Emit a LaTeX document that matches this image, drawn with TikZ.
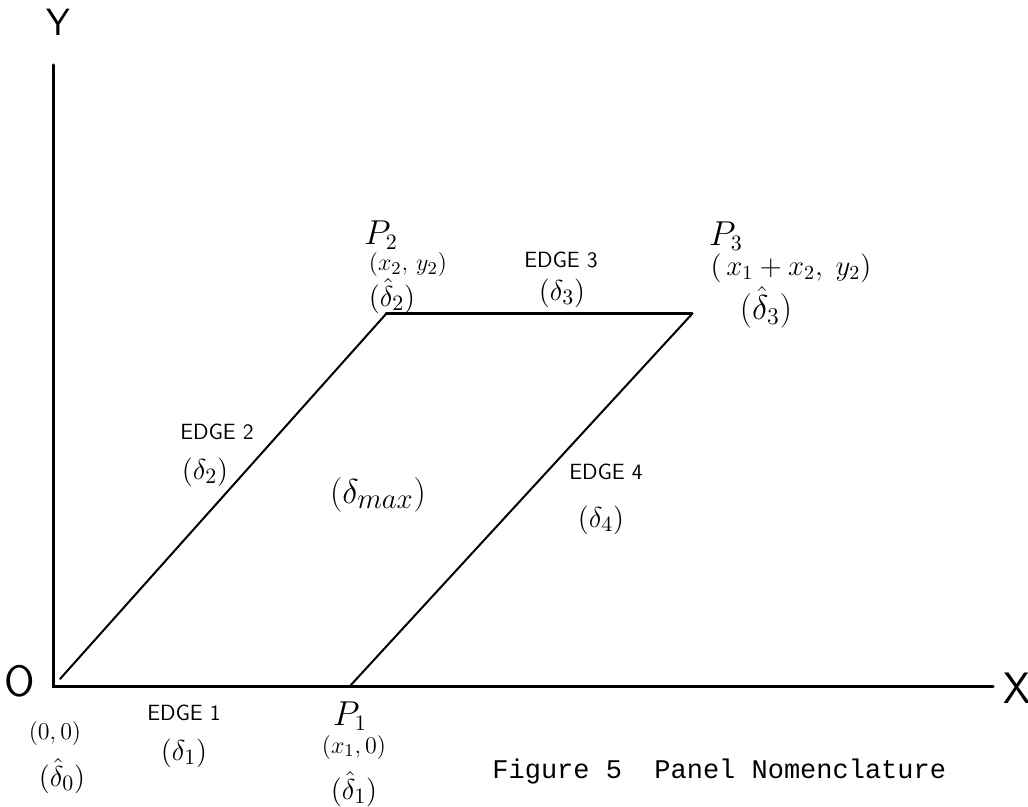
\documentclass[tikz,border=0pt]{standalone}
\usepackage{fontspec}
\newfontfamily\capfont{Liberation Mono}
\begin{document}
\begin{tikzpicture}[x=0.5pt,y=-0.5pt,
  axis/.style={line width=1.5pt, line cap=round},
  edgeline/.style={line width=1pt, line cap=round},
  toplinestyle/.style={line width=1.5pt, line cap=round},
  axlab/.style={inner sep=0pt, font=\fontsize{19}{22}\selectfont\sffamily},
  ptlab/.style={inner sep=0pt, font=\fontsize{16}{18}\selectfont},
  coordlab/.style={inner sep=0pt, font=\fontsize{12.5}{14}\selectfont},
  dlab/.style={inner sep=0pt, font=\fontsize{15}{17}\selectfont},
  edgelab/.style={inner sep=0pt, font=\fontsize{11}{13}\selectfont\sffamily},
  caption/.style={inner sep=0pt, font=\fontsize{13.5}{16}\selectfont\capfont}]
\useasboundingbox (0,0) rectangle (1028,807);
% key points
\coordinate (O) at (53,686);
\coordinate (Ytop) at (53,65);
\coordinate (Xend) at (993,686);
\coordinate (E2s) at (60,679);
\coordinate (P1) at (350,686);
\coordinate (P2) at (386,314);
\coordinate (P3) at (692,314);
% axes
\draw[axis] (Ytop) -- (O) -- (Xend);
% panel edges
\draw[edgeline] (E2s) -- (P2);
\draw[toplinestyle] (P2) -- (P3);
\draw[edgeline] (P3) -- (P1);
% axis labels
\node[axlab] (ylab) at (58,22) {Y};
\node[axlab, font=\fontsize{22}{24}\selectfont\sffamily] (olab) at (20,681) {O};
\node[axlab, font=\fontsize{22}{24}\selectfont\sffamily] (xlab) at (1017,688) {X};
% origin labels
\node[coordlab] (oc) at (55,733) {$(0,0)$};
\node[dlab] (od) at (62,776) {$(\hat{\delta}_0)$};
% edge 1
\node[edgelab] (e1) at (184,713) {EDGE 1};
\node[dlab] (e1d) at (184,753) {$(\delta_1)$};
% P1
\node[ptlab] (p1) at (350,716) {$P_1$};
\node[coordlab] (p1c) at (354,747) {$(x_1,0)$};
\node[dlab] (p1d) at (354,789) {$(\hat{\delta}_1)$};
% edge 2
\node[edgelab] (e2) at (217,432) {EDGE 2};
\node[dlab] (e2d) at (205,472) {$(\delta_2)$};
% P2
\node[ptlab] (p2) at (381,235) {$P_2$};
\node[coordlab] (p2c) at (408,265) {$(x_2,\,y_2)$};
\node[dlab] (p2d) at (392,296) {$(\hat{\delta}_2)$};
% edge 3
\node[edgelab] (e3) at (561,260) {EDGE 3};
\node[dlab] (e3d) at (562,293) {$(\delta_3)$};
% P3
\node[ptlab] (p3) at (726,236) {$P_3$};
\node[coordlab, font=\fontsize{14}{16}\selectfont] (p3c) at (791,268) {$(\,x_1+x_2,\;y_2)$};
\node[dlab, font=\fontsize{17}{19}\selectfont] (p3d) at (766,307) {$(\hat{\delta}_3)$};
% interior
\node[dlab, font=\fontsize{19}{22}\selectfont] (dmax) at (378,495) {$(\delta_{max})$};
% edge 4
\node[edgelab] (e4) at (606,472) {EDGE 4};
\node[dlab] (e4d) at (601,520) {$(\delta_4)$};
% caption
\node[caption, anchor=west] (cap) at (492,772) {Figure 5\ \ Panel Nomenclature};
\end{tikzpicture}
\end{document}
